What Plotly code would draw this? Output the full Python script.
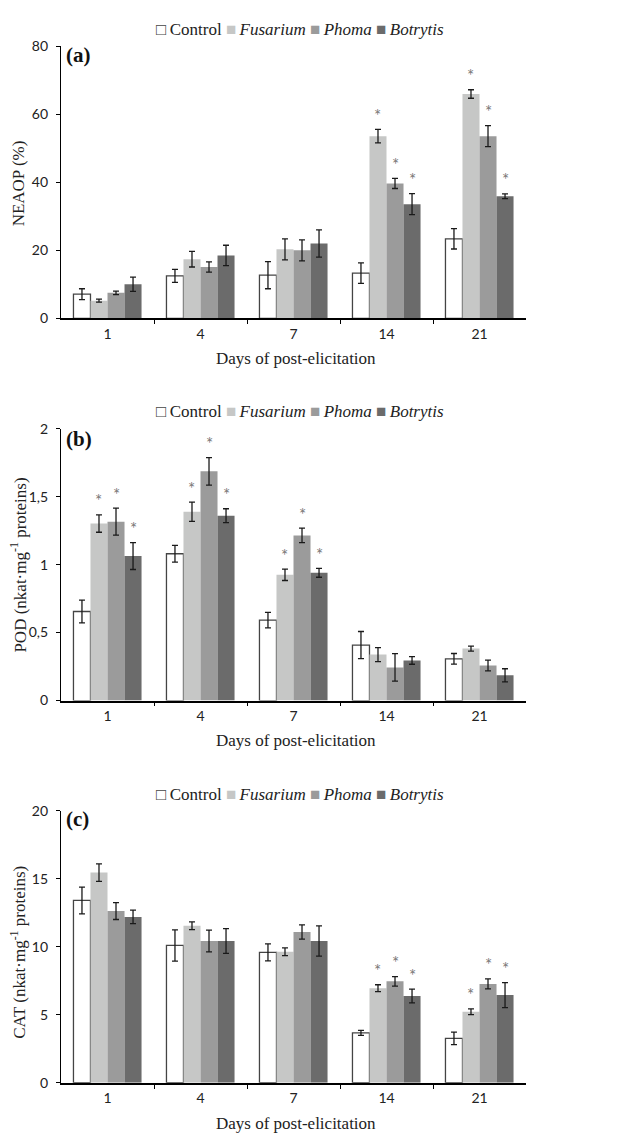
import plotly.graph_objects as go
import numpy as np

# ---------------- data ----------------
days = ["1", "4", "7", "14", "21"]
series = ["Control", "Fusarium", "Phoma", "Botrytis"]

# (a) NEAOP (%)
neaop_control = [7.1, 12.5, 12.7, 13.3, 23.4]
neaop_fusarium = [5.2, 17.4, 20.3, 53.6, 66.0]
neaop_phoma = [7.5, 15.1, 20.0, 39.7, 53.6]
neaop_botrytis = [10.0, 18.5, 22.0, 33.6, 35.9]
neaop_control_err = [1.6, 1.9, 4.0, 3.0, 3.0]
neaop_fusarium_err = [0.45, 2.3, 3.1, 2.0, 1.25]
neaop_phoma_err = [0.5, 1.5, 3.1, 1.5, 3.1]
neaop_botrytis_err = [2.1, 3.0, 4.0, 3.1, 0.7]
neaop_sig = [[0, 0, 0, 0, 0], [0, 0, 0, 1, 1], [0, 0, 0, 1, 1], [0, 0, 0, 1, 1]]

# (b) POD
pod_control = [0.655, 1.080, 0.592, 0.408, 0.307]
pod_fusarium = [1.302, 1.389, 0.925, 0.338, 0.382]
pod_phoma = [1.316, 1.686, 1.215, 0.244, 0.258]
pod_botrytis = [1.063, 1.360, 0.940, 0.295, 0.186]
pod_control_err = [0.083, 0.062, 0.057, 0.100, 0.039]
pod_fusarium_err = [0.064, 0.071, 0.042, 0.052, 0.018]
pod_phoma_err = [0.099, 0.101, 0.053, 0.101, 0.039]
pod_botrytis_err = [0.099, 0.051, 0.033, 0.028, 0.048]
pod_sig = [[0, 0, 0, 0, 0], [1, 1, 1, 0, 0], [1, 1, 1, 0, 0], [1, 1, 1, 0, 0]]

# (c) CAT
cat_control = [13.41, 10.10, 9.59, 3.67, 3.26]
cat_fusarium = [15.46, 11.55, 9.64, 6.96, 5.22]
cat_phoma = [12.63, 10.43, 11.09, 7.46, 7.27]
cat_botrytis = [12.20, 10.43, 10.43, 6.38, 6.45]
cat_control_err = [0.98, 1.15, 0.62, 0.18, 0.46]
cat_fusarium_err = [0.64, 0.29, 0.29, 0.25, 0.21]
cat_phoma_err = [0.62, 0.80, 0.53, 0.35, 0.37]
cat_botrytis_err = [0.50, 0.91, 1.11, 0.51, 0.92]
cat_sig = [[0, 0, 0, 0, 0], [0, 0, 0, 1, 1], [0, 0, 0, 1, 1], [0, 0, 0, 1, 1]]

pod_tickvals = [0, 0.5, 1, 1.5, 2]
pod_ticktext = ["0", "0,5", "1", "1,5", "2"]

# ---------------- style ----------------
W, H = 622, 1142
fills = ["#ffffff", "#c6c7c6", "#9b9b9b", "#6b6b6b"]
BW = 0.183
SERIF = "Liberation Serif, Times New Roman, serif"
SANS = "Lato, Open Sans, sans-serif"

def px_x(p):
    return p / W

def px_y(p):
    return 1 - p / H

panels = [
    dict(vals=[neaop_control, neaop_fusarium, neaop_phoma, neaop_botrytis],
         errs=[neaop_control_err, neaop_fusarium_err, neaop_phoma_err, neaop_botrytis_err],
         sig=neaop_sig, top=38, bottom=314, rng=[0, 80],
         tickvals=[0, 20, 40, 60, 80], ticktext=["0", "20", "40", "60", "80"],
         label="(a)", ytitle="NEAOP (%)", legend_y=21, label_y=47, xtitle_y=355, ytitle_y=177),
    dict(vals=[pod_control, pod_fusarium, pod_phoma, pod_botrytis],
         errs=[pod_control_err, pod_fusarium_err, pod_phoma_err, pod_botrytis_err],
         sig=pod_sig, top=426, bottom=702, rng=[0, 2],
         tickvals=pod_tickvals, ticktext=pod_ticktext,
         label="(b)", ytitle="POD (nkat·mg<sup>-1</sup> proteins)", legend_y=409, label_y=437,
         xtitle_y=743, ytitle_y=565),
    dict(vals=[cat_control, cat_fusarium, cat_phoma, cat_botrytis],
         errs=[cat_control_err, cat_fusarium_err, cat_phoma_err, cat_botrytis_err],
         sig=cat_sig, top=814, bottom=1090, rng=[0, 20],
         tickvals=[0, 5, 10, 15, 20], ticktext=["0", "5", "10", "15", "20"],
         label="(c)", ytitle="CAT (nkat·mg<sup>-1</sup> proteins)", legend_y=797, label_y=822,
         xtitle_y=1131, ytitle_y=958),
]

fig = go.Figure()
layout = dict(width=W, height=H, margin=dict(l=0, r=0, t=0, b=0),
              paper_bgcolor="white", plot_bgcolor="white", barmode="overlay",
              showlegend=False)
annotations = []
base = np.arange(len(days))

TS = "&#8201;"
legend_text = ('<span style="color:#444444">□</span>' + TS + 'Control '
               '<span style="color:%s">■</span>' + TS + '<i>Fusarium</i> '
               '<span style="color:%s">■</span>' + TS + '<i>Phoma</i> '
               '<span style="color:%s">■</span>' + TS + '<i>Botrytis</i>') % (fills[1], fills[2], fills[3])

for k, p in enumerate(panels):
    sfx = "" if k == 0 else str(k + 1)
    xa, ya = "x" + sfx, "y" + sfx
    for j in range(4):
        xpos = base + (j - 1.5) * BW
        fig.add_trace(go.Bar(
            x=xpos, y=p["vals"][j], width=BW, name=series[j],
            marker=dict(color=fills[j],
                        line=dict(color="#444444" if j == 0 else fills[j], width=1.3 if j == 0 else 0)),
            error_y=dict(type="data", array=p["errs"][j], color="#1a1a1a", thickness=1.3, width=3),
            xaxis=xa, yaxis=ya, showlegend=False, hoverinfo="skip"))
        tops = np.array(p["vals"][j]) + np.array(p["errs"][j])
        for i, s in enumerate(p["sig"][j]):
            if s:
                annotations.append(dict(xref=xa, yref=ya, x=float(xpos[i]), y=float(tops[i]),
                                        text="*", showarrow=False, xanchor="center",
                                        yanchor="middle", yshift=14,
                                        font=dict(family=SANS, size=17, color="#777777")))
    layout["xaxis" + sfx] = dict(
        domain=[px_x(61), px_x(526)], range=[-0.5, 4.5], anchor=ya,
        tickmode="array", tickvals=list(base), ticktext=days, ticks="",
        showline=True, linecolor="black", linewidth=1.5, showgrid=False, zeroline=False,
        tickfont=dict(family=SANS, size=14, color="#222222"), ticklabelstandoff=2,
        minor=dict(tickmode="array", tickvals=[0.5, 1.5, 2.5, 3.5], ticks="outside",
                   ticklen=4, tickcolor="black", tickwidth=1, showgrid=False),
        fixedrange=True)
    layout["yaxis" + sfx] = dict(
        domain=[px_y(p["bottom"]), px_y(p["top"])], range=p["rng"], anchor=xa,
        tickmode="array", tickvals=p["tickvals"], ticktext=p["ticktext"],
        ticks="outside", ticklen=4, tickcolor="black", showline=True, linecolor="black",
        linewidth=1.2, showgrid=False, zeroline=False, ticklabelstandoff=5,
        tickfont=dict(family=SANS, size=14, color="#222222"), fixedrange=True)
    annotations.append(dict(xref="paper", yref="paper", x=px_x(300), y=px_y(p["legend_y"]),
                            text=legend_text, showarrow=False, xanchor="center", yanchor="middle",
                            font=dict(family=SERIF, size=17, color="#222222")))
    annotations.append(dict(xref="paper", yref="paper", x=px_x(64), y=px_y(p["label_y"]),
                            text="<b>%s</b>" % p["label"], showarrow=False, xanchor="left",
                            yanchor="middle", font=dict(family=SERIF, size=21, color="#111111")))
    annotations.append(dict(xref="paper", yref="paper", x=px_x(296), y=px_y(p["xtitle_y"]),
                            text="Days of post-elicitation", showarrow=False, xanchor="center",
                            yanchor="middle", font=dict(family=SERIF, size=17, color="#222222")))
    annotations.append(dict(xref="paper", yref="paper", x=px_x(18), y=px_y(p["ytitle_y"]),
                            text=p["ytitle"], showarrow=False, xanchor="center", yanchor="middle",
                            textangle=-90, font=dict(family=SERIF, size=17, color="#222222")))

layout["annotations"] = annotations
fig.update_layout(**layout)
fig.write_html("out.html", config={"displayModeBar": False},
               post_script="document.body.style.margin='0';document.body.style.padding='0';"
                           "document.documentElement.style.overflow='hidden';")
